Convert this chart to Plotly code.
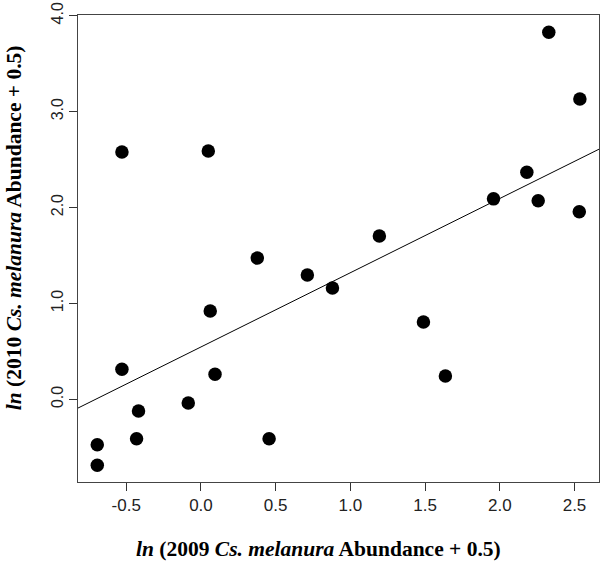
import numpy as np
import plotly.graph_objects as go

x_ln2009 = [-0.694, -0.694, -0.529, -0.529, -0.418, -0.431, -0.085, 0.049, 0.062, 0.094,
            0.377, 0.456, 0.712, 0.880, 1.194, 1.489, 1.636, 1.958, 2.181, 2.257,
            2.328, 2.536, 2.532]
y_ln2010 = [-0.473, -0.688, 2.579, 0.313, -0.122, -0.411, -0.039, 2.589, 0.921, 0.261,
            1.473, -0.411, 1.296, 1.161, 1.703, 0.806, 0.243, 2.090, 2.367, 2.071,
            3.827, 3.131, 1.956]

# fitted regression line (as drawn in the reference)
fit_intercept = 0.546
fit_slope = 0.774

x_ticks = [-0.5, 0.0, 0.5, 1.0, 1.5, 2.0, 2.5]
x_ticklabels = ["-0.5", "0.0", "0.5", "1.0", "1.5", "2.0", "2.5"]
y_ticks = [0.0, 1.0, 2.0, 3.0, 4.0]
y_ticklabels = ["0.0", "1.0", "2.0", "3.0", "4.0"]

x_range = [-0.823, 2.664]
y_range = [-0.862, 4.007]

line_x = np.array(x_range)
line_y = fit_intercept + fit_slope * line_x

fig = go.Figure()
fig.add_trace(go.Scatter(x=line_x, y=line_y, mode="lines",
                         line=dict(color="black", width=1), hoverinfo="skip"))
fig.add_trace(go.Scatter(x=x_ln2009, y=y_ln2010, mode="markers",
                         marker=dict(color="black", size=13.5, line=dict(width=0))))

axis_common = dict(showgrid=False, zeroline=False, showline=True, mirror=True,
                   linecolor="#444444", linewidth=1, ticks="outside", ticklen=8,
                   tickcolor="#333333", tickwidth=1, automargin=False)

title_font = dict(family="Liberation Serif, Times New Roman, serif", size=21.5, color="black")

fig.update_layout(
    width=605, height=561,
    margin=dict(l=78, r=6, t=15, b=79, autoexpand=False),
    paper_bgcolor="white", plot_bgcolor="white",
    showlegend=False,
    xaxis=dict(range=x_range, tickvals=x_ticks, ticktext=x_ticklabels,
               tickfont=dict(family="Liberation Sans, Arial, sans-serif", size=17, color="#222222"),
               **axis_common),
    yaxis=dict(range=y_range, tickvals=y_ticks, ticktext=y_ticklabels, tickangle=-90,
               tickfont=dict(family="Liberation Sans, Arial, sans-serif", size=16, color="#222222"),
               **axis_common),
    annotations=[
        dict(text="<b><i>ln</i> (2009 <i>Cs. melanura</i> Abundance + 0.5)</b>",
             xref="paper", yref="paper", x=0.461, y=-0.1435,
             xanchor="center", yanchor="middle", showarrow=False, font=title_font),
        dict(text="<b><i>ln</i> (2010 <i>Cs. melanura</i> Abundance + 0.5)</b>",
             xref="paper", yref="paper", x=-0.1223, y=0.544, textangle=-90,
             xanchor="center", yanchor="middle", showarrow=False, font=title_font),
    ],
)

fig.write_html("out.html", config={"displayModeBar": False},
               post_script="document.body.style.margin='0';")
